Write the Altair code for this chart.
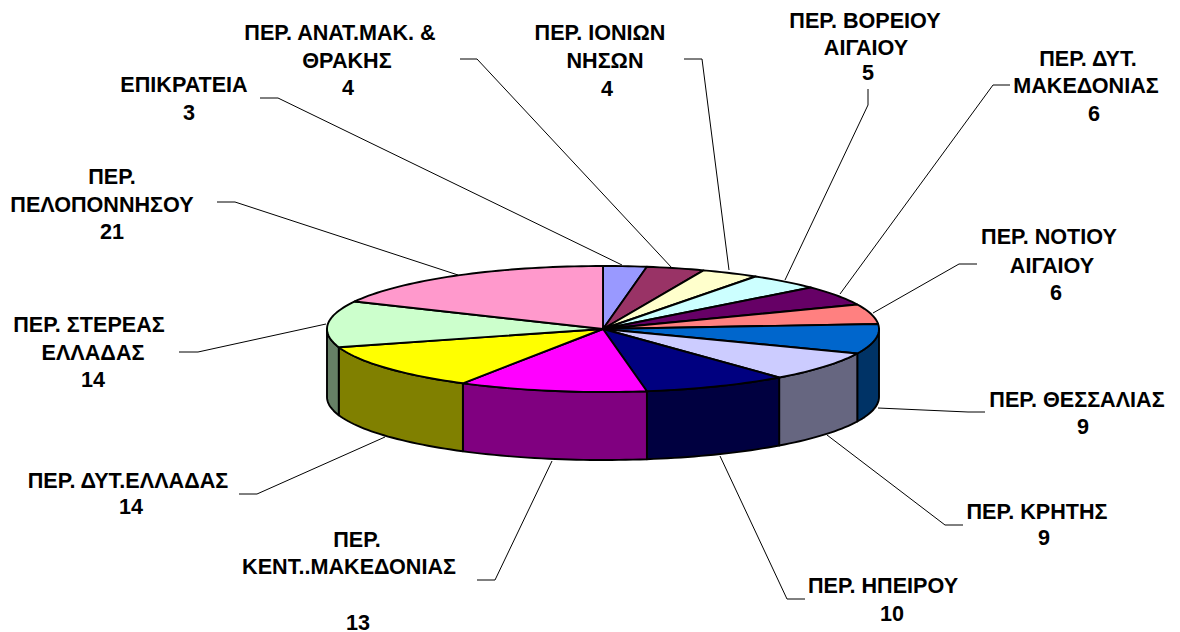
import math
import altair as alt
import pandas as pd

regions = ["ΕΠΙΚΡΑΤΕΙΑ", "ΑΝΑΤ", "ΙΟΝΙΩΝ", "ΒΟΡΕΙΟΥ", "ΔΥΤΜΑΚ", "ΝΟΤΙΟΥ", "ΘΕΣΣΑΛΙΑΣ",
           "ΚΡΗΤΗΣ", "ΗΠΕΙΡΟΥ", "ΚΕΝΤ", "ΔΥΤΕΛΛ", "ΣΤΕΡΕΑΣ", "ΠΕΛΟΠ"]
values = [3, 4, 4, 5, 6, 6, 9, 9, 10, 13, 14, 14, 21]
top_colors = ["#9999FF", "#993366", "#FFFFCC", "#CCFFFF", "#660066", "#FF8080", "#0066CC",
              "#CCCCFF", "#000080", "#FF00FF", "#FFFF00", "#CCFFCC", "#FF99CC"]
side_colors = ["#4C4C80", "#4C1933", "#808066", "#668080", "#330033", "#804040", "#003366",
               "#666680", "#000040", "#800080", "#808000", "#668066", "#804C66"]

label_text = [
    ["ΕΠΙΚΡΑΤΕΙΑ", "3"],
    ["ΠΕΡ. ΑΝΑΤ.ΜΑΚ. &", "ΘΡΑΚΗΣ", "4"],
    ["ΠΕΡ. ΙΟΝΙΩΝ", "ΝΗΣΩΝ", "4"],
    ["ΠΕΡ. ΒΟΡΕΙΟΥ", "ΑΙΓΑΙΟΥ", "5"],
    ["ΠΕΡ. ΔΥΤ.", "ΜΑΚΕΔΟΝΙΑΣ", "6"],
    ["ΠΕΡ. ΝΟΤΙΟΥ", "ΑΙΓΑΙΟΥ", "6"],
    ["ΠΕΡ. ΘΕΣΣΑΛΙΑΣ", "9"],
    ["ΠΕΡ. ΚΡΗΤΗΣ", "9"],
    ["ΠΕΡ. ΗΠΕΙΡΟΥ", "10"],
    ["ΠΕΡ.", "ΚΕΝΤ..ΜΑΚΕΔΟΝΙΑΣ", "13"],
    ["ΠΕΡ. ΔΥΤ.ΕΛΛΑΔΑΣ", "14"],
    ["ΠΕΡ. ΣΤΕΡΕΑΣ", "ΕΛΛΑΔΑΣ", "14"],
    ["ΠΕΡ.", "ΠΕΛΟΠΟΝΝΗΣΟΥ", "21"],
]
label_x = [
    [184, 189], [340, 347, 348], [600, 605, 607], [865, 866, 868], [1088, 1086, 1094],
    [1049, 1052, 1056], [1077, 1083], [1037, 1044], [883, 892], [357, 349, 358],
    [128, 131], [89, 93, 93], [112, 102, 112],
]
label_y = [
    [86, 114], [34, 62, 89], [34, 62, 90], [22, 49, 74], [60, 87, 115],
    [238, 267, 294], [401, 428], [513, 539], [587, 615], [541, 568, 624],
    [482, 508], [326, 354, 381], [178, 206, 233],
]
leaders = [
    [(260, 98), (278, 98), (622, 265)],
    [(460, 59), (477, 59), (672, 268)],
    [(684, 59), (702, 59), (729, 270)],
    [(868, 89), (868, 105), (785, 280)],
    [(1010, 85), (993, 85), (840, 294)],
    [(977, 264), (959, 264), (873, 313)],
    [(985, 412), (968, 412), (878, 408)],
    [(963, 525), (945, 525), (827, 435)],
    [(805, 599), (787, 599), (720, 456)],
    [(477, 580), (495, 580), (552, 461)],
    [(239, 494), (257, 494), (385, 437)],
    [(179, 352), (198, 352), (326, 324)],
    [(217, 202), (235, 202), (458, 275)],
]

W, H = 1164, 624
OFF = 8
CX, CY, RX, RY, DEPTH = 603 - OFF, 329 - OFF, 276, 63, 68


def pt(deg, dy=0):
    a = math.radians(deg)
    return [CX + RX * math.sin(a), CY - RY * math.cos(a) + dy]


total = sum(values)
bounds = [0]
for v in values:
    bounds.append(bounds[-1] + v / total * 360)


def arc(a, b, dy=0):
    n = max(2, int(abs(b - a) / 1.5) + 2)
    return [pt(a + (b - a) * i / (n - 1), dy) for i in range(n)]


features = []
for i, r in enumerate(regions):
    a, b = max(bounds[i], 90), min(bounds[i + 1], 270)
    if a < b:
        ring = arc(a, b) + arc(b, a, DEPTH)
        features.append({"type": "Feature", "properties": {"key": "side " + r},
                         "geometry": {"type": "Polygon", "coordinates": [ring + [ring[0]]]}})
for i, r in enumerate(regions):
    ring = [[CX, CY]] + arc(bounds[i], bounds[i + 1])
    features.append({"type": "Feature", "properties": {"key": "top " + r},
                     "geometry": {"type": "Polygon", "coordinates": [ring + [ring[0]]]}})

keys = ["side " + r for r in regions] + ["top " + r for r in regions]
pie = alt.Chart(alt.Data(values=features)).mark_geoshape(
    stroke="black", strokeWidth=1.9, strokeJoin="round"
).encode(
    color=alt.Color("properties.key:N", legend=None,
                    scale=alt.Scale(domain=keys, range=side_colors + top_colors))
).project(type="identity", scale=1, translate=[0, 0])

xs = alt.Scale(domain=[OFF, OFF + W], range=[0, W])
ys = alt.Scale(domain=[OFF + H, OFF], range=[H, 0])

line_rows = []
for r, pts in zip(regions, leaders):
    for k, (x, y) in enumerate(pts):
        line_rows.append({"r": r, "k": k, "x": x, "y": y})
lines = alt.Chart(pd.DataFrame(line_rows)).mark_line(color="black", strokeWidth=1).encode(
    x=alt.X("x:Q", scale=xs, axis=None),
    y=alt.Y("y:Q", scale=ys, axis=None),
    detail="r:N",
    order="k:Q",
)

text_rows = []
for t, xx, yy in zip(label_text, label_x, label_y):
    for s, x, y in zip(t, xx, yy):
        text_rows.append({"t": s, "x": x, "y": y})
texts = alt.Chart(pd.DataFrame(text_rows)).mark_text(
    font="Liberation Sans", fontWeight="bold", fontSize=21.6, color="black",
    align="center", baseline="middle"
).encode(
    x=alt.X("x:Q", scale=xs, axis=None),
    y=alt.Y("y:Q", scale=ys, axis=None),
    text="t:N",
)

chart = alt.layer(lines, pie, texts).properties(
    width=W, height=H, padding=0, autosize=alt.AutoSizeParams(type="none")
).configure_view(stroke=None).resolve_scale(color="independent")

chart.save("out.html", embed_options={"renderer": "svg", "actions": False})
